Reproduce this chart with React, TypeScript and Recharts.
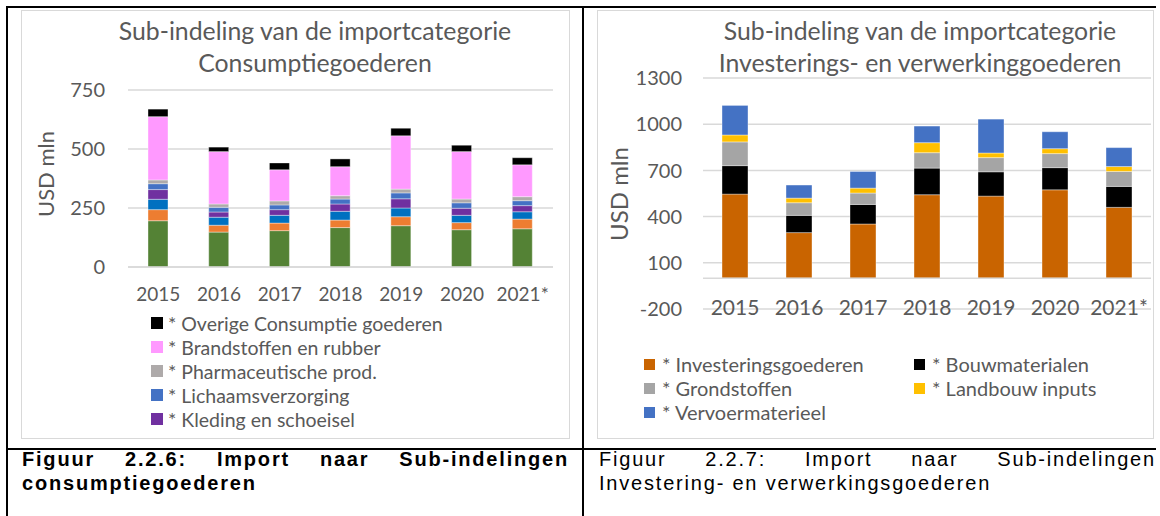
import { BarChart, Bar, XAxis, YAxis, CartesianGrid, ReferenceLine } from 'recharts';

const years = ['2015', '2016', '2017', '2018', '2019', '2020', '2021*'];

// Consumptiegoederen, stacked bottom-up (USD mln)
const voedingsmiddelen = [196, 148, 154, 167, 175, 158, 162];
const drankenTabak = [47, 29, 32, 32, 38, 30, 41];
const huishoudartikelen = [44, 34, 33, 37, 37, 31, 31];
const kleding = [41, 22, 24, 31, 39, 30, 26];
const lichaamsverzorging = [25, 20, 20, 21, 25, 23, 21];
const pharmaceutisch = [16, 14, 17, 14, 16, 16, 17];
const brandstoffen = [268, 222, 132, 123, 226, 201, 135];
const overigeConsumptie = [32, 19, 29, 33, 32, 27, 30];

// Investerings- en verwerkingsgoederen, stacked bottom-up (USD mln)
const investeringsgoederen = [546, 296, 352, 542, 533, 574, 460];
const bouwmaterialen = [185, 112, 127, 173, 158, 144, 136];
const grondstoffen = [154, 82, 74, 100, 92, 91, 97];
const landbouwInputs = [45, 30, 32, 65, 30, 32, 32];
const vervoermaterieel = [192, 85, 108, 108, 220, 110, 123];

const consumTicks = [0, 250, 500, 750];
const investTicks = [-200, 100, 400, 700, 1000, 1300];

const consumSeries = [
  { key: 'voeding', name: '* Voedingsmiddelen', color: '#548235', values: voedingsmiddelen },
  { key: 'dranken', name: '* Dranken en tabak', color: '#ED7D31', values: drankenTabak },
  { key: 'huishoud', name: '* Huishoudelijke artikelen', color: '#0070C0', values: huishoudartikelen },
  { key: 'kleding', name: '* Kleding en schoeisel', color: '#7030A0', values: kleding },
  { key: 'lichaam', name: '* Lichaamsverzorging', color: '#4472C4', values: lichaamsverzorging },
  { key: 'pharma', name: '* Pharmaceutische prod.', color: '#AEAAAA', values: pharmaceutisch },
  { key: 'brand', name: '* Brandstoffen en rubber', color: '#FF99FF', values: brandstoffen },
  { key: 'overig', name: '* Overige Consumptie goederen', color: '#000000', values: overigeConsumptie },
];

const investSeries = [
  { key: 'invest', name: '* Investeringsgoederen', color: '#C96400', values: investeringsgoederen },
  { key: 'bouw', name: '* Bouwmaterialen', color: '#000000', values: bouwmaterialen },
  { key: 'grond', name: '* Grondstoffen', color: '#A5A5A5', values: grondstoffen },
  { key: 'landbouw', name: '* Landbouw inputs', color: '#FFC000', values: landbouwInputs },
  { key: 'vervoer', name: '* Vervoermaterieel', color: '#4472C4', values: vervoermaterieel },
];

const buildRows = (series: typeof consumSeries) =>
  years.map((year, i) => {
    const row: Record<string, string | number> = { year };
    series.forEach(s => { row[s.key] = s.values[i]; });
    return row;
  });

const consumData = buildRows(consumSeries);
const investData = buildRows(investSeries);

const FONT = 'Lato, "Open Sans", sans-serif';
const TEXT = '#595959';
const GRID = '#d9d9d9';

const AxisTitle = (props: any) => {
  const { tx, ty, fs } = props;
  return (
    <text x={tx} y={ty} transform={`rotate(-90 ${tx} ${ty})`} textAnchor="middle"
      dominantBaseline="central" fill={TEXT} fontSize={fs} fontFamily={FONT}>
      USD mln
    </text>
  );
};

function ConsumChart() {
  return (
    <BarChart width={549} height={429} data={consumData} barSize={20}
      margin={{ top: 80, right: 17, left: 0, bottom: 142 }}>
      <CartesianGrid vertical={false} stroke={GRID} strokeWidth={1.5} />
      <XAxis dataKey="year" height={30} interval={0} tickLine={false} tickSize={0} tickMargin={21}
        axisLine={{ stroke: GRID, strokeWidth: 1.5 }}
        tick={{ fill: TEXT, fontSize: 19, fontFamily: FONT }} />
      <YAxis width={107} domain={[0, 750]} ticks={consumTicks} axisLine={false} tickLine={false}
        tickSize={0} tickMargin={23} tick={{ fill: TEXT, fontSize: 20, fontFamily: FONT }}
        label={<AxisTitle tx={24} ty={164} fs={22} />} />
      {consumSeries.map(s => (
        <Bar key={s.key} dataKey={s.key} name={s.name} stackId="a" fill={s.color}
          stroke="#ffffff" strokeOpacity={0.5} strokeWidth={0.75} isAnimationActive={false} />
      ))}
    </BarChart>
  );
}

function InvestChart() {
  return (
    <BarChart width={557} height={429} data={investData} barSize={26}
      margin={{ top: 68, right: 3, left: 0, bottom: 100 }}>
      <CartesianGrid vertical={false} stroke={GRID} strokeWidth={1.5} />
      <XAxis dataKey="year" height={30} interval={0} axisLine={false} tickLine={false}
        tickSize={0} tickMargin={-9} tick={{ fill: TEXT, fontSize: 21, fontFamily: FONT }} />
      <YAxis width={106} domain={[-200, 1300]} ticks={investTicks} axisLine={false} tickLine={false}
        tickSize={0} tickMargin={21} tick={{ fill: TEXT, fontSize: 20, fontFamily: FONT }}
        label={<AxisTitle tx={21} ty={184} fs={24} />} />
      <ReferenceLine y={0} stroke={GRID} strokeWidth={1.5} />
      {investSeries.map(s => (
        <Bar key={s.key} dataKey={s.key} name={s.name} stackId="a" fill={s.color}
          stroke="#ffffff" strokeOpacity={0.5} strokeWidth={0.75} isAnimationActive={false} />
      ))}
    </BarChart>
  );
}

const abs = (left: number, top: number, extra: React.CSSProperties = {}): React.CSSProperties => ({
  position: 'absolute', left, top, ...extra,
});

function Caption({ left, width, first, second, bold }: { left: number; width: number; first: string; second: string; bold: boolean }) {
  return (
    <div style={abs(left, 447, {
      width, fontFamily: '"Liberation Sans", Arial, sans-serif', fontSize: 20,
      fontWeight: bold ? 'bold' : 'normal', letterSpacing: 1.8, lineHeight: '24px', color: '#000',
    })}>
      <div style={{ display: 'flex', justifyContent: 'space-between' }}>
        {first.split(' ').map((w, i) => <span key={i}>{w}</span>)}
      </div>
      <div>{second}</div>
    </div>
  );
}

export default function App() {
  // legend of the left chart is cut off in the original: only the top five series show
  const consumLegend = consumSeries.slice().reverse().slice(0, 5);
  const titleStyle: React.CSSProperties = {
    width: 500, textAlign: 'center', fontFamily: FONT, fontSize: 24.8, lineHeight: '32px', color: TEXT,
  };
  return (
    <div style={abs(0, 0, { width: 1160, height: 516, background: '#fff', overflow: 'hidden' })}>
      {/* table lines */}
      <div style={abs(6, 6, { width: 1150, height: 2, background: '#000' })} />
      <div style={abs(6, 6, { width: 2, height: 510, background: '#000' })} />
      <div style={abs(582, 6, { width: 2, height: 510, background: '#000' })} />
      <div style={abs(6, 448, { width: 1150, height: 2, background: '#000' })} />

      {/* left chart */}
      <div style={abs(21, 10, { width: 549, height: 429, border: `1px solid ${GRID}`, boxSizing: 'border-box' })} />
      <div style={abs(21, 10)}><ConsumChart /></div>
      <div style={abs(65, 15, titleStyle)}>
        <div>Sub-indeling van de importcategorie</div>
        <div>Consumptiegoederen</div>
      </div>
      <div style={abs(151, 311, { fontFamily: FONT, fontSize: 19.5, color: TEXT })}>
        {consumLegend.map(s => (
          <div key={s.key} style={{ display: 'flex', alignItems: 'center', height: 24 }}>
            <span style={{ width: 12, height: 12, background: s.color, marginRight: 5 }} />
            <span>{s.name}</span>
          </div>
        ))}
      </div>

      {/* right chart */}
      <div style={abs(597, 10, { width: 557, height: 429, border: `1px solid ${GRID}`, boxSizing: 'border-box' })} />
      <div style={abs(597, 10)}><InvestChart /></div>
      <div style={abs(670, 15, titleStyle)}>
        <div>Sub-indeling van de importcategorie</div>
        <div>Investerings- en verwerkinggoederen</div>
      </div>
      <div style={abs(644, 352, {
        display: 'grid', gridTemplateColumns: '270px 230px', fontFamily: FONT, fontSize: 20, color: TEXT,
      })}>
        {investSeries.map(s => (
          <div key={s.key} style={{ display: 'flex', alignItems: 'center', height: 24 }}>
            <span style={{ width: 11, height: 11, background: s.color, marginRight: 7 }} />
            <span>{s.name}</span>
          </div>
        ))}
      </div>

      <Caption left={22} width={547} bold first="Figuur 2.2.6: Import naar Sub-indelingen" second="consumptiegoederen" />
      <Caption left={599} width={557} bold={false} first="Figuur 2.2.7: Import naar Sub-indelingen" second="Investering- en verwerkingsgoederen" />
    </div>
  );
}
